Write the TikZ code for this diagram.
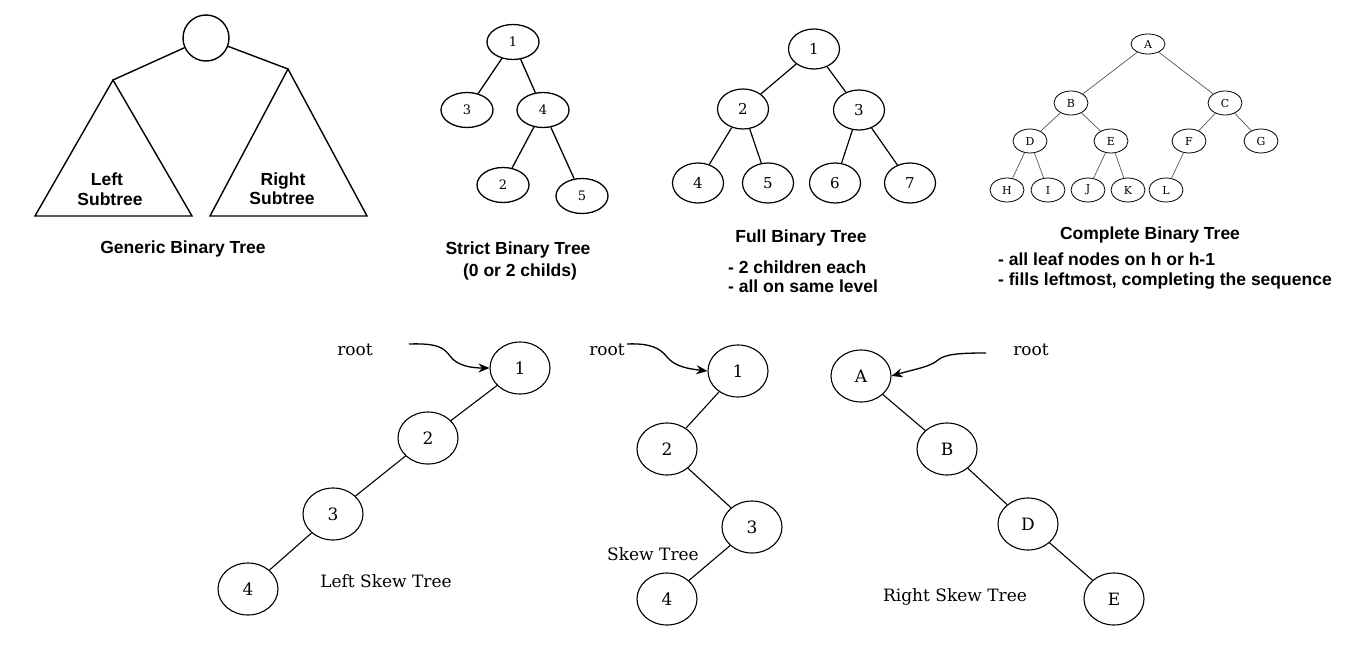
\documentclass[tikz,border=0pt]{standalone}
\usepackage{fontspec}
\usetikzlibrary{shapes.geometric,arrows.meta}
\newfontfamily\capfont{Liberation Sans}
\newfontfamily\dserif{DejaVu Serif}
\begin{document}
\begin{tikzpicture}[x=1pt,y=-1pt,
  capt/.style={font=\capfont\bfseries\fontsize{17.5}{20}\selectfont,anchor=base,inner sep=0pt},
  capl/.style={capt,anchor=base west},
  skt/.style={font=\dserif\fontsize{17}{20}\selectfont,anchor=base,inner sep=0pt},
  gline/.style={line width=1.4pt,line join=miter},
  stnode/.style={ellipse,draw,line width=1.3pt,inner sep=0pt,minimum width=52pt,minimum height=35pt,font=\dserif\fontsize{13}{15}\selectfont},
  stedge/.style={line width=1.3pt},
  fnode/.style={ellipse,draw,line width=1.2pt,inner sep=0pt,minimum width=51pt,minimum height=40pt,font=\dserif\fontsize{15}{17}\selectfont},
  fedge/.style={line width=1.2pt},
  cnode/.style={ellipse,draw,line width=0.8pt,inner sep=0pt,minimum width=34pt,minimum height=24pt,font=\dserif\fontsize{11}{13}\selectfont},
  cedge/.style={line width=0.7pt,draw=black!65},
  sknode/.style={ellipse,draw,line width=1.1pt,inner sep=0pt,minimum width=60pt,minimum height=52pt,font=\dserif\fontsize{17}{20}\selectfont},
  skedge/.style={line width=1.1pt},
  rootarrow/.style={line width=1.3pt,-{Stealth[length=11pt,width=9pt]}}
]
\useasboundingbox[fill=white] (0,0) rectangle (1347,653);

% ---------- Generic binary tree ----------
\node[circle,draw,line width=1.4pt,minimum size=46pt,inner sep=0pt] (groot) at (206,38) {};
\coordinate (lapex) at (113,80);
\coordinate (rapex) at (288,69);
\draw[gline] (groot) -- (lapex);
\draw[gline] (groot) -- (rapex);
\draw[gline] (lapex) -- (192,216) -- (35,216) -- cycle;
\draw[gline] (rapex) -- (367,216) -- (210,216) -- cycle;
\node[capt] (lsub1) at (107,185) {Left};
\node[capt] (lsub2) at (110,205) {Subtree};
\node[capt] (rsub1) at (283,185) {Right};
\node[capt] (rsub2) at (282,204) {Subtree};
\node[capt] (gcap) at (183,253) {Generic Binary Tree};

% ---------- Strict binary tree ----------
\node[stnode] (s1) at (513,42) {1};
\node[stnode] (s3) at (467,110) {3};
\node[stnode] (s4) at (543,110) {4};
\node[stnode] (s2) at (503,185) {2};
\node[stnode] (s5) at (582,196) {5};
\draw[stedge] (s1) -- (s3);
\draw[stedge] (s1) -- (s4);
\draw[stedge] (s4) -- (s2);
\draw[stedge] (s4) -- (s5);
\node[capt] (scap) at (518,254) {Strict Binary Tree};
\node[capt] (scap2) at (520,276) {(0 or 2 childs)};

% ---------- Full binary tree ----------
\node[fnode] (f1) at (814,49) {1};
\node[fnode] (f2) at (743,109) {2};
\node[fnode] (f3) at (859,110) {3};
\node[fnode] (f4) at (698,183) {4};
\node[fnode] (f5) at (768,183) {5};
\node[fnode] (f6) at (835,183) {6};
\node[fnode] (f7) at (910,183) {7};
\draw[fedge] (f1) -- (f2);
\draw[fedge] (f1) -- (f3);
\draw[fedge] (f2) -- (f4);
\draw[fedge] (f2) -- (f5);
\draw[fedge] (f3) -- (f6);
\draw[fedge] (f3) -- (f7);
\node[capt] (fcap) at (801,242) {Full Binary Tree};
\node[capl] (fl1) at (728,273) {- 2 children each};
\node[capl] (fl2) at (728,292) {- all on same level};

% ---------- Complete binary tree ----------
\node[cnode,minimum height=20pt] (cA) at (1148,44) {A};
\node[cnode] (cB) at (1071,103) {B};
\node[cnode] (cC) at (1225,103) {C};
\node[cnode] (cD) at (1030,141) {D};
\node[cnode] (cE) at (1111,141) {E};
\node[cnode] (cF) at (1189,141) {F};
\node[cnode] (cG) at (1261,141) {G};
\node[cnode] (cH) at (1007,190) {H};
\node[cnode] (cI) at (1048,190) {I};
\node[cnode] (cJ) at (1088,190) {J};
\node[cnode] (cK) at (1128,190) {K};
\node[cnode] (cL) at (1166,190) {L};
\draw[cedge] (cA) -- (cB);
\draw[cedge] (cA) -- (cC);
\draw[cedge] (cB) -- (cD);
\draw[cedge] (cB) -- (cE);
\draw[cedge] (cC) -- (cF);
\draw[cedge] (cC) -- (cG);
\draw[cedge] (cD) -- (cH);
\draw[cedge] (cD) -- (cI);
\draw[cedge] (cE) -- (cJ);
\draw[cedge] (cE) -- (cK);
\draw[cedge] (cF) -- (cL);
\node[capt] (ccap) at (1150,239) {Complete Binary Tree};
\node[capl] (cl1) at (998,265) {- all leaf nodes on h or h-1};
\node[capl] (cl2) at (998,285) {- fills leftmost, completing the sequence};

% ---------- Left skew tree ----------
\node[sknode] (l1) at (520,368) {1};
\node[sknode] (l2) at (428,438) {2};
\node[sknode] (l3) at (333,514) {3};
\node[sknode] (l4) at (248,589) {4};
\draw[skedge] (l1) -- (l2);
\draw[skedge] (l2) -- (l3);
\draw[skedge] (l3) -- (l4);
\node[skt] (lroot) at (355,355) {root};
\coordinate (lrs) at (409,344);
\draw[rootarrow] (lrs) .. controls (438,343) and (444,348) .. (450,356)
  .. controls (457,366) and (472,368) .. (l1.west);
\node[skt] (lcap) at (386,587) {Left Skew Tree};

% ---------- Skew tree ----------
\node[sknode] (m1) at (738,371) {1};
\node[sknode] (m2) at (667,449) {2};
\node[sknode] (m3) at (752,527) {3};
\node[sknode] (m4) at (667,599) {4};
\draw[skedge] (m1) -- (m2);
\draw[skedge] (m2) -- (m3);
\draw[skedge] (m3) -- (m4);
\node[skt] (mroot) at (607,355) {root};
\coordinate (mrs) at (627,344);
\draw[rootarrow] (mrs) .. controls (650,343) and (660,348) .. (667,357)
  .. controls (675,367) and (690,369) .. (m1.west);
\node[skt] (mcap) at (653,560) {Skew Tree};

% ---------- Right skew tree ----------
\node[sknode] (rA) at (861,376) {A};
\node[sknode] (rB) at (947,449) {B};
\node[sknode] (rD) at (1028,524) {D};
\node[sknode] (rE) at (1114,599) {E};
\draw[skedge] (rA) -- (rB);
\draw[skedge] (rB) -- (rD);
\draw[skedge] (rD) -- (rE);
\node[skt] (rroot) at (1031,355) {root};
\coordinate (rrs) at (986,353);
\draw[rootarrow] (rrs) .. controls (960,353) and (945,354) .. (938,360)
  .. controls (930,367) and (915,369) .. (rA.east);
\node[skt] (rcap) at (955,601) {Right Skew Tree};
\end{tikzpicture}
\end{document}
